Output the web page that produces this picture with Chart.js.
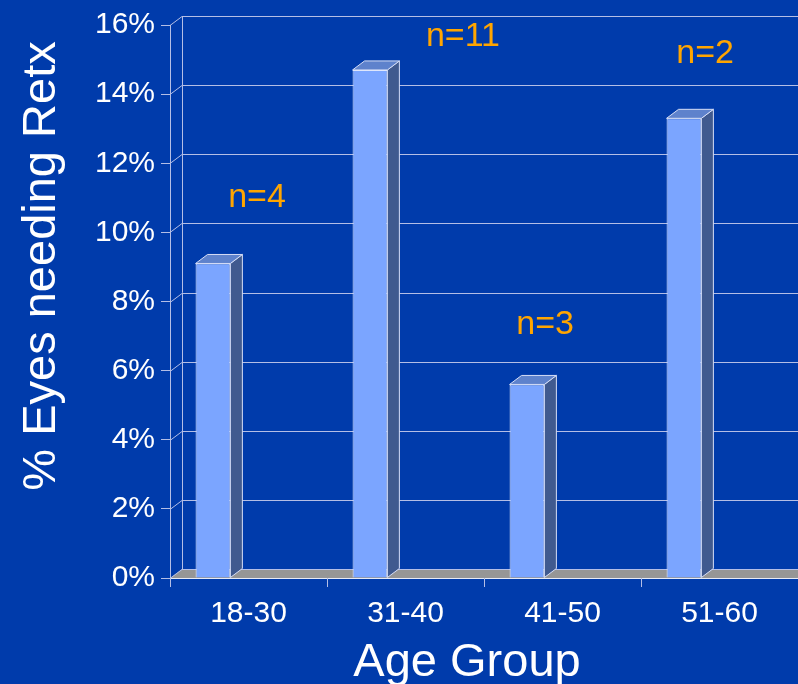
<!DOCTYPE html>
<html><head><meta charset="utf-8">
<script src="https://cdn.jsdelivr.net/npm/chart.js@4.4.1/dist/chart.umd.min.js"></script>
<style>html,body{margin:0;padding:0;background:#003BAB;overflow:hidden}</style>
</head><body>
<canvas id="c" width="798" height="684"></canvas>
<script>
// ---- data ----
const categories = ['18-30', '31-40', '41-50', '51-60'];
const retxPercent = [9.1, 14.7, 5.6, 13.3];
const sampleSizes = ['n=4', 'n=11', 'n=3', 'n=2'];
const yTickLabels = ['0%', '2%', '4%', '6%', '8%', '10%', '12%', '14%', '16%'];
const xTitle = 'Age Group';
const yTitle = '% Eyes needing Retx';

// ---- style / layout ----
const FONT = '"Liberation Sans", Arial, sans-serif';
const DX = 12, DY = 9;
const BG = '#003BAB';
const GRID = '#B4BEE6';

const threeD = {
  id: 'threeD',
  beforeDraw(chart, args, opts) {
    const {ctx, chartArea: a, scales: {y}} = chart;
    const W = chart.width;
    ctx.save();
    ctx.fillStyle = BG;
    ctx.fillRect(0, 0, W, chart.height);
    const y0 = Math.round(y.getPixelForValue(0));
    // floor
    ctx.fillStyle = '#969696';
    ctx.beginPath();
    ctx.moveTo(a.left, y0);
    ctx.lineTo(a.left + DX, y0 - DY);
    ctx.lineTo(W + DX, y0 - DY);
    ctx.lineTo(W, y0);
    ctx.closePath();
    ctx.fill();
    // back wall gridlines + connectors
    ctx.strokeStyle = GRID;
    ctx.lineWidth = 1;
    y.ticks.forEach(t => {
      const py = Math.round(y.getPixelForValue(t.value)) + 0.5;
      ctx.beginPath();
      ctx.moveTo(a.left, py);
      ctx.lineTo(a.left + DX, py - DY);
      ctx.lineTo(W, py - DY);
      ctx.stroke();
    });
    const yTop = Math.round(y.getPixelForValue(y.max));
    ctx.beginPath();
    ctx.moveTo(a.left + DX + 0.5, yTop - DY);
    ctx.lineTo(a.left + DX + 0.5, y0 - DY);
    ctx.stroke();
    // front floor edge
    ctx.strokeStyle = '#E6EAF6';
    ctx.beginPath();
    ctx.moveTo(a.left, y0 + 0.5);
    ctx.lineTo(W, y0 + 0.5);
    ctx.stroke();
    ctx.restore();
  },
  afterDatasetsDraw(chart, args, opts) {
    const {ctx, scales: {x, y}} = chart;
    const meta = chart.getDatasetMeta(0);
    ctx.save();
    ctx.lineWidth = 1;
    ctx.strokeStyle = '#D6DEF6';
    meta.data.forEach(bar => {
      const p = bar.getProps(['x', 'y', 'base', 'width'], true);
      const l = p.x - p.width / 2, r = p.x + p.width / 2, t = p.y, b = p.base;
      // side face
      ctx.fillStyle = '#405A8F';
      ctx.beginPath();
      ctx.moveTo(r, t); ctx.lineTo(r + DX, t - DY); ctx.lineTo(r + DX, b - DY); ctx.lineTo(r, b);
      ctx.closePath(); ctx.fill(); ctx.stroke();
      // top face
      ctx.fillStyle = '#5E82CC';
      ctx.beginPath();
      ctx.moveTo(l, t); ctx.lineTo(l + DX, t - DY); ctx.lineTo(r + DX, t - DY); ctx.lineTo(r, t);
      ctx.closePath(); ctx.fill(); ctx.stroke();
    });
    ctx.restore();
  },
  afterDraw(chart, args, opts) {
    const {ctx, scales: {x, y}} = chart;
    ctx.save();
    // n= labels, anchored in data units
    ctx.fillStyle = '#FFA500';
    ctx.font = '34px ' + FONT;
    ctx.textAlign = 'center';
    ctx.textBaseline = 'middle';
    const catW = x.getPixelForValue(1) - x.getPixelForValue(0);
    sampleSizes.forEach((s, i) => {
      const an = opts.anchors[i];
      ctx.fillText(s, x.getPixelForValue(i) + an.dc * catW, y.getPixelForValue(an.v));
    });
    // axis titles
    ctx.fillStyle = '#FFFFFF';
    ctx.font = '47px ' + FONT;
    ctx.textBaseline = 'alphabetic';
    ctx.fillText(xTitle, opts.xTitlePos[0], opts.xTitlePos[1]);
    ctx.translate(opts.yTitlePos[0], opts.yTitlePos[1]);
    ctx.rotate(-Math.PI / 2);
    ctx.fillText(yTitle, 0, 0);
    ctx.restore();
  }
};

new Chart(document.getElementById('c'), {
  type: 'bar',
  data: {
    labels: categories,
    datasets: [
      {data: retxPercent, backgroundColor: '#7BA5FF', borderColor: '#E6ECFF', borderWidth: 1},
      {data: categories.map(() => null)}
    ]
  },
  plugins: [threeD],
  options: {
    responsive: false,
    animation: false,
    devicePixelRatio: 1,
    layout: {padding: {top: 25, right: 0, bottom: 0, left: 0}},
    datasets: {bar: {categoryPercentage: 0.905, barPercentage: 0.49}},
    plugins: {
      legend: {display: false},
      tooltip: {enabled: false},
      threeD: {
        anchors: [{dc: 0.054, v: 11.0}, {dc: 0.366, v: 15.65}, {dc: -0.111, v: 7.32}, {dc: -0.092, v: 15.18}],
        xTitlePos: [467, 676],
        yTitlePos: [55, 266]
      }
    },
    scales: {
      x: {
        grid: {drawOnChartArea: false, drawTicks: true, tickLength: 9, color: GRID, offset: true},
        border: {display: false},
        ticks: {color: '#FFFFFF', font: {family: FONT, size: 30}, padding: 9, maxRotation: 0, autoSkip: false},
        afterFit: s => { s.height = 106; }
      },
      y: {
        min: 0, max: 16,
        ticks: {stepSize: 2, color: '#FFFFFF', font: {family: FONT, size: 30}, padding: 6,
                callback: (v, i) => yTickLabels[i]},
        grid: {drawOnChartArea: false, drawTicks: true, tickLength: 9, color: GRID},
        border: {display: true, color: GRID},
        afterFit: s => { s.width = 170; }
      }
    }
  }
});
</script>
</body></html>
